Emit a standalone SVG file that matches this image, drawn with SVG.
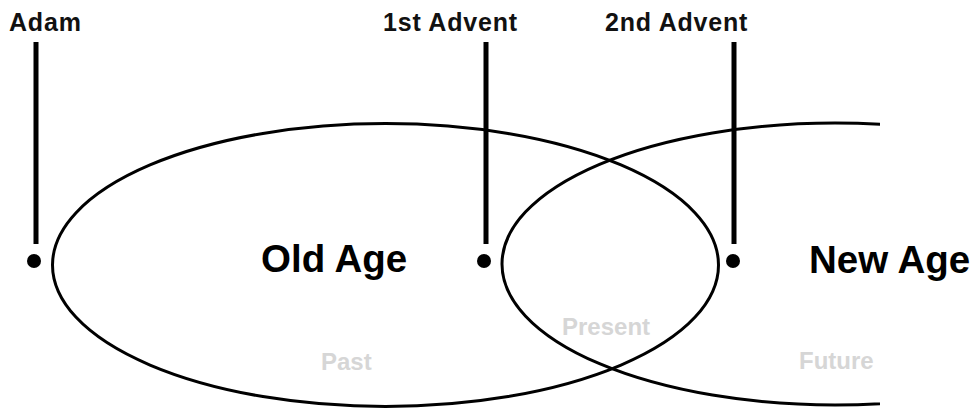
<svg xmlns="http://www.w3.org/2000/svg" width="980" height="410" viewBox="0 0 980 410">
<style>
.ell{fill:none;stroke:#000;stroke-width:3}
.pin{stroke:#000;stroke-width:5}
.dot{fill:#000}
.lbl{font-family:"Liberation Sans",Arial,sans-serif;font-weight:bold;font-size:25px;fill:#111;letter-spacing:0.8px}
.age{font-family:"Liberation Sans",Arial,sans-serif;font-weight:bold;font-size:38.5px;fill:#000}
.time{font-family:"Liberation Sans",Arial,sans-serif;font-weight:bold;font-size:24px;fill:#d6d6d6}
</style>
<defs>
<clipPath id="clipR"><rect x="0" y="0" width="880" height="410"/></clipPath>
</defs>
<g id="old-age">
<ellipse class="ell" cx="385.5" cy="265" rx="333" ry="141.5"/>
<text class="age" x="261" y="272">Old Age</text>
<text class="time" x="321" y="370">Past</text>
</g>
<g id="new-age">
<ellipse class="ell" cx="835" cy="264" rx="333" ry="141" clip-path="url(#clipR)"/>
<text class="age" x="809" y="273">New Age</text>
<text class="time" x="799" y="369">Future</text>
</g>
<g id="present">
<text class="time" x="562" y="335">Present</text>
</g>
<g id="connectors">
<line class="pin" x1="36" y1="42" x2="36" y2="244"/>
<line class="pin" x1="486" y1="42" x2="486" y2="244"/>
<line class="pin" x1="734" y1="42" x2="734" y2="244"/>
</g>
<g id="adam">
<text class="lbl" x="9" y="31" letter-spacing="0">Adam</text>
<circle class="dot" cx="34" cy="261" r="7"/>
</g>
<g id="first-advent">
<text class="lbl" x="383" y="31">1st Advent</text>
<circle class="dot" cx="484" cy="261" r="7"/>
</g>
<g id="second-advent">
<text class="lbl" x="605" y="31">2nd Advent</text>
<circle class="dot" cx="733" cy="261" r="7"/>
</g>
</svg>
